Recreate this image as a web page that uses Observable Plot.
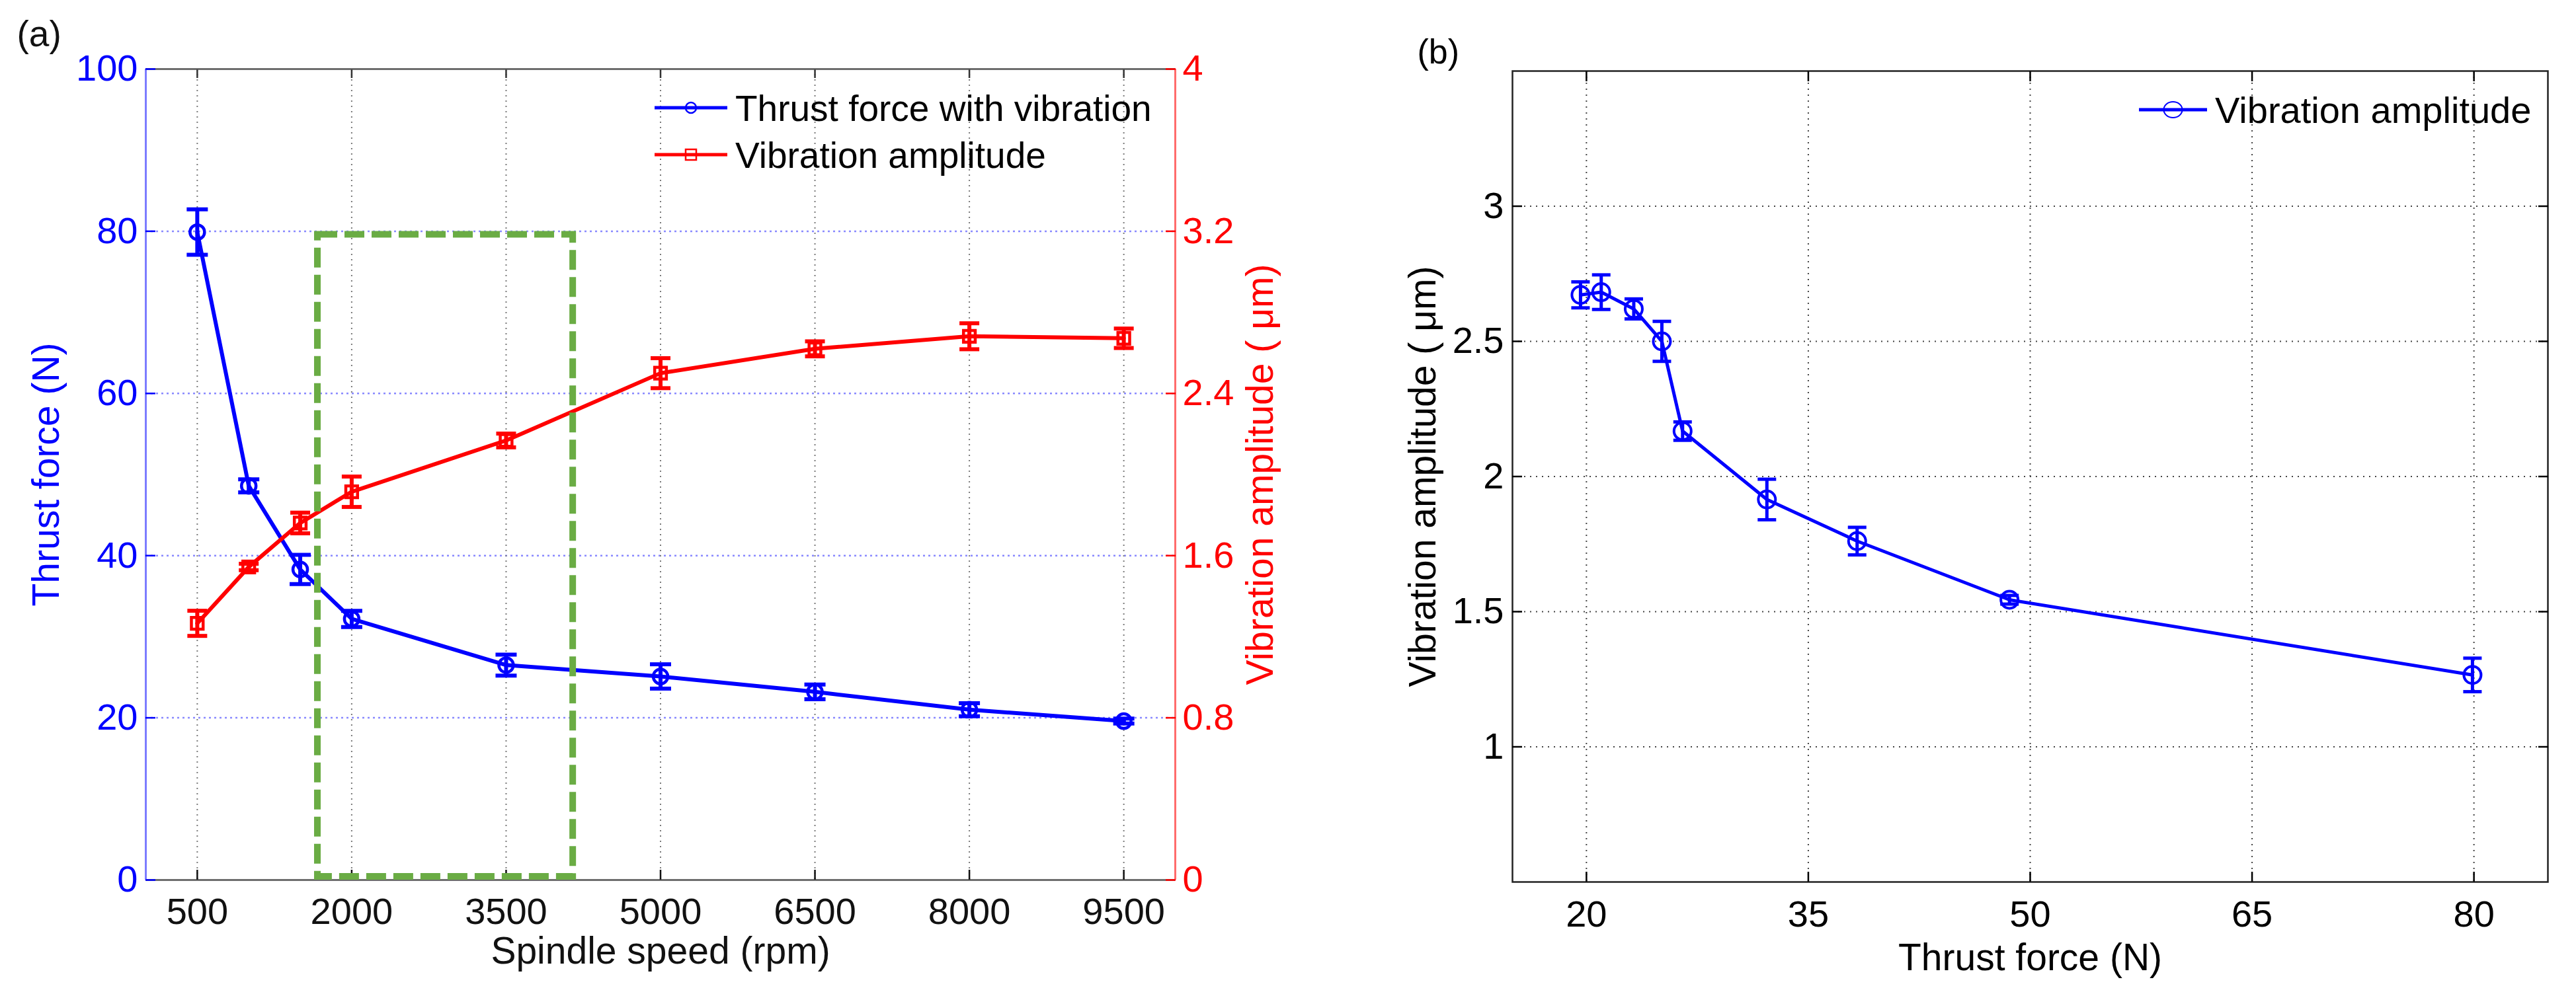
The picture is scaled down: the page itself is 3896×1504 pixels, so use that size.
<!DOCTYPE html>
<html>
<head>
<meta charset="utf-8">
<script src="https://cdn.jsdelivr.net/npm/d3@7"></script>
<script src="https://cdn.jsdelivr.net/npm/@observablehq/plot@0.6"></script>
<style>
  html, body { margin: 0; padding: 0; background: #fff; }
  #page { position: relative; width: 3896px; height: 1504px; background: #fff; overflow: hidden;
          font-family: "Liberation Sans", Arial, Helvetica, sans-serif; }
  .panel { position: absolute; top: 0; }
</style>
</head>
<body>
<div id="page">
  <div id="pa" class="panel" style="left:0;width:2050px;height:1504px"></div>
  <div id="pb" class="panel" style="left:2000px;width:1896px;height:1504px"></div>
</div>
<script>
// Measurements at each spindle speed
const speed     = [500, 1000, 1500, 2000, 3500, 5000, 6500, 8000, 9500];      // rpm
const thrust    = [79.9, 48.6, 38.3, 32.2, 26.5, 25.1, 23.2, 21.0, 19.6];     // N
const thrustErr = [2.8, 0.8, 1.8, 1.0, 1.3, 1.5, 0.9, 0.8, 0.3];
const vib       = [1.266, 1.544, 1.761, 1.915, 2.168, 2.5, 2.62, 2.682, 2.672]; // µm
const vibErr    = [0.062, 0.016, 0.051, 0.075, 0.034, 0.074, 0.037, 0.064, 0.048];

// Axis domains and tick values
const speedDomain  = [0, 10000];
const speedTicks   = [500, 2000, 3500, 5000, 6500, 8000, 9500];
const thrustDomain = [0, 100];
const thrustTicks  = [0, 20, 40, 60, 80, 100];
const vibDomain    = [0, 4];
const vibTicks     = [0, 0.8, 1.6, 2.4, 3.2, 4];
const forceDomain  = [15, 85];
const forceTicks   = [20, 35, 50, 65, 80];
const ampDomain    = [0.5, 3.5];
const ampTicks     = [1, 1.5, 2, 2.5, 3];

// Speed window outlined on panel (a)
const speedWindow = [{from: 1670, to: 4150, low: 0, high: 80}];

// Legend entries
const legendA = ["Thrust force with vibration", "Vibration amplitude"];
const legendB = ["Vibration amplitude"];

const rows = speed.map((s, i) => ({
  speed: s, thrust: thrust[i], thrustErr: thrustErr[i], vib: vib[i], vibErr: vibErr[i]
}));

// Vibration is drawn against the force scale; the right axis relabels it
const k = thrustDomain[1] / vibDomain[1];

const FONT = '"Liberation Sans", Arial, Helvetica, sans-serif';
const BLUE = "#0000ff", RED = "#ff0000", GREEN = "#6aac44";
const fmt = d3.format("~g");

// Horizontal error-bar cap drawn as a dot symbol
const capSymbol = {
  draw(context, size) {
    const w = Math.sqrt(size / Math.PI);
    context.moveTo(-w, 0);
    context.lineTo(w, 0);
  }
};

function errorBars(data, x, y, e, color, cap, width) {
  return [
    Plot.ruleX(data, {x, y1: d => d[y] - d[e], y2: d => d[y] + d[e], stroke: color, strokeWidth: width}),
    Plot.dot(data, {x, y: d => d[y] - d[e], symbol: capSymbol, r: cap, stroke: color, strokeWidth: width, fill: "none"}),
    Plot.dot(data, {x, y: d => d[y] + d[e], symbol: capSymbol, r: cap, stroke: color, strokeWidth: width, fill: "none"})
  ];
}

const baseStyle = {fontFamily: FONT, background: "transparent", overflow: "visible", maxWidth: "none"};

// Panel (a): thrust force and vibration amplitude against spindle speed
const rowsA = rows.map(d => ({...d, vibK: d.vib * k, vibErrK: d.vibErr * k}));
const plotA = Plot.plot({
  width: 2050, height: 1504,
  marginLeft: 220, marginRight: 273, marginTop: 104, marginBottom: 173,
  style: baseStyle,
  x: {domain: speedDomain},
  y: {domain: thrustDomain},
  marks: [
    Plot.gridY(thrustTicks.slice(1, -1), {stroke: "#8a8aff", strokeOpacity: 1, strokeWidth: 2.5, strokeDasharray: "3,5"}),
    Plot.gridX(speedTicks, {stroke: "#7a7a7a", strokeOpacity: 1, strokeWidth: 2, strokeDasharray: "2,6"}),
    Plot.ruleY([thrustDomain[0]], {stroke: "#6e6e6e", strokeWidth: 3}),
    Plot.ruleY([thrustDomain[1]], {stroke: "#6e6e6e", strokeWidth: 3}),
    Plot.ruleX([speedDomain[0]], {stroke: "#7c7cff", strokeWidth: 3}),
    Plot.ruleX([speedDomain[1]], {stroke: "#ff6c6c", strokeWidth: 3}),
    Plot.axisX(speedTicks, {anchor: "bottom", tickSize: -15, tickPadding: 42, fontSize: 56, color: "#111",
      strokeWidth: 2.5, label: null, tickFormat: d => `${d}`}),
    Plot.axisX(speedTicks, {anchor: "top", tickSize: -13, tickPadding: 0, color: "#333",
      strokeWidth: 2.5, label: null, tickFormat: () => ""}),
    Plot.axisY(thrustTicks, {anchor: "left", tickSize: -15, tickPadding: 27, fontSize: 56, color: BLUE,
      strokeWidth: 2.5, label: null, tickFormat: d => `${d}`}),
    Plot.axisY(vibTicks.map(v => v * k), {anchor: "right", tickSize: -15, tickPadding: 26, fontSize: 56, color: RED,
      strokeWidth: 2.5, label: null, tickFormat: d => fmt(+(d / k).toFixed(3))}),

    Plot.line(rowsA, {x: "speed", y: "thrust", stroke: BLUE, strokeWidth: 6}),
    ...errorBars(rowsA, "speed", "thrust", "thrustErr", BLUE, 16, 6),
    Plot.dot(rowsA, {x: "speed", y: "thrust", r: 11, stroke: BLUE, strokeWidth: 4.5, fill: "none"}),

    Plot.line(rowsA, {x: "speed", y: "vibK", stroke: RED, strokeWidth: 6}),
    ...errorBars(rowsA, "speed", "vibK", "vibErrK", RED, 15, 6),
    Plot.dot(rowsA, {x: "speed", y: "vibK", r: 10, symbol: "square", stroke: RED, strokeWidth: 4.5, fill: "none"}),

    Plot.rect(speedWindow, {x1: "from", x2: "to", y1: "low", y2: "high", fill: "none", stroke: GREEN,
      strokeWidth: 10, strokeDasharray: "30,11", insetTop: 5, insetBottom: 5}),

    Plot.text(["Thrust force (N)"], {text: d => d, frameAnchor: "left", textAnchor: "middle", rotate: -90, dx: -132,
      lineAnchor: "bottom", fontSize: 57, fill: BLUE}),
    Plot.text(["Vibration amplitude ( μm)"], {text: d => d, frameAnchor: "right", textAnchor: "middle", rotate: -90, dx: 147,
      lineAnchor: "bottom", fontSize: 57, fill: RED}),
    Plot.text(["Spindle speed (rpm)"], {text: d => d, frameAnchor: "bottom", dy: 126,
      lineAnchor: "bottom", fontSize: 57, fill: "#111"}),
    Plot.text(["(a)"], {text: d => d, frameAnchor: "top-left", dx: -195, dy: -35,
      lineAnchor: "bottom", textAnchor: "start", fontSize: 55, fill: "#111"})
  ]
});
document.getElementById("pa").append(plotA);

// Panel (b): vibration amplitude against thrust force
const plotB = Plot.plot({
  width: 1896, height: 1504,
  marginLeft: 287, marginRight: 43, marginTop: 107, marginBottom: 170,
  style: baseStyle,
  x: {domain: forceDomain},
  y: {domain: ampDomain},
  marks: [
    Plot.gridX(forceTicks, {stroke: "#444", strokeOpacity: 1, strokeWidth: 2, strokeDasharray: "2,7"}),
    Plot.gridY(ampTicks, {stroke: "#444", strokeOpacity: 1, strokeWidth: 2, strokeDasharray: "2,7"}),
    Plot.frame({stroke: "#222", strokeWidth: 2.5}),
    Plot.axisX(forceTicks, {anchor: "bottom", tickSize: -15, tickPadding: 43, fontSize: 56, color: "#000",
      strokeWidth: 2.5, label: null, tickFormat: d => `${d}`}),
    Plot.axisX(forceTicks, {anchor: "top", tickSize: -15, tickPadding: 0, color: "#000",
      strokeWidth: 2.5, label: null, tickFormat: () => ""}),
    Plot.axisY(ampTicks, {anchor: "left", tickSize: -15, tickPadding: 28, fontSize: 56, color: "#000",
      strokeWidth: 2.5, label: null, tickFormat: d => `${d}`}),
    Plot.axisY(ampTicks, {anchor: "right", tickSize: -15, tickPadding: 0, color: "#000",
      strokeWidth: 2.5, label: null, tickFormat: () => ""}),

    Plot.line(rows, {x: "thrust", y: "vib", stroke: BLUE, strokeWidth: 5}),
    ...errorBars(rows, "thrust", "vib", "vibErr", BLUE, 14, 5),
    Plot.dot(rows, {x: "thrust", y: "vib", r: 13, stroke: BLUE, strokeWidth: 4, fill: "none"}),

    Plot.text(["Vibration amplitude ( μm)"], {text: d => d, frameAnchor: "left", textAnchor: "middle", rotate: -90, dx: -117,
      lineAnchor: "bottom", fontSize: 57, fill: "#000"}),
    Plot.text(["Thrust force (N)"], {text: d => d, frameAnchor: "bottom", dy: 133,
      lineAnchor: "bottom", fontSize: 57, fill: "#000"}),
    Plot.text(["(b)"], {text: d => d, frameAnchor: "top-left", dx: -144, dy: -12,
      lineAnchor: "bottom", textAnchor: "start", fontSize: 52, fill: "#000"})
  ]
});
document.getElementById("pb").append(plotB);

// Legends drawn over both panels
const overlay = d3.select("#page").append("svg")
  .attr("width", 3896).attr("height", 1504)
  .style("position", "absolute").style("left", 0).style("top", 0)
  .style("pointer-events", "none").style("font-family", FONT);

function legendRow(g, label, color, cy, x0, x1, marker, textX, fontSize) {
  g.append("line").attr("x1", x0).attr("x2", x1).attr("y1", cy).attr("y2", cy)
    .attr("stroke", color).attr("stroke-width", 5);
  const mx = (x0 + x1) / 2;
  if (marker === "circle") {
    g.append("circle").attr("cx", mx).attr("cy", cy).attr("r", 8)
      .attr("fill", "none").attr("stroke", color).attr("stroke-width", 2.5);
  } else if (marker === "square") {
    g.append("rect").attr("x", mx - 8).attr("y", cy - 8).attr("width", 16).attr("height", 16)
      .attr("fill", "none").attr("stroke", color).attr("stroke-width", 2.5);
  } else if (marker === "ring") {
    g.append("ellipse").attr("cx", mx).attr("cy", cy).attr("rx", 14).attr("ry", 12)
      .attr("fill", "none").attr("stroke", color).attr("stroke-width", 2);
  }
  g.append("text").attr("x", textX).attr("y", cy).attr("dy", "0.36em")
    .attr("font-size", fontSize).attr("fill", "#000").text(label);
}

const gA = overlay.append("g");
legendRow(gA, legendA[0], BLUE, 163, 990, 1100, "circle", 1112, 55);
legendRow(gA, legendA[1], RED, 234, 990, 1100, "square", 1112, 55);

const gB = overlay.append("g");
legendRow(gB, legendB[0], BLUE, 166, 3235, 3338, "ring", 3350, 56);
</script>
</body>
</html>
